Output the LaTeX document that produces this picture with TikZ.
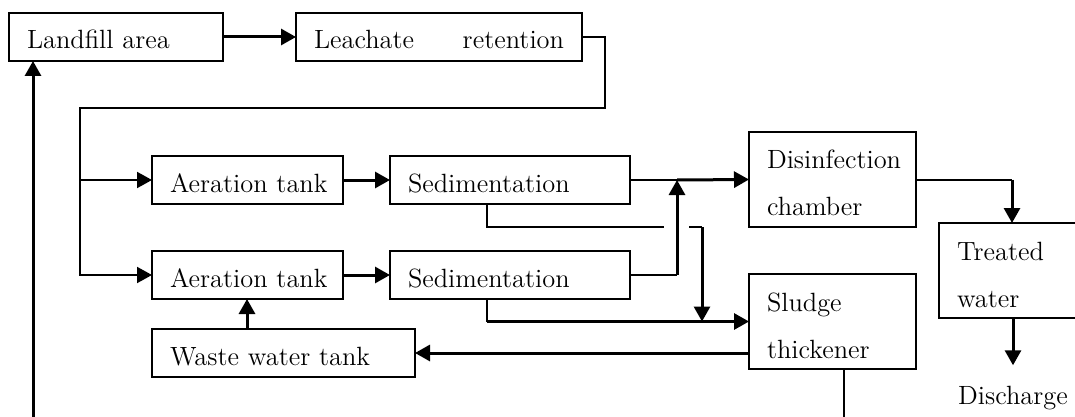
\documentclass[tikz,border=0pt]{standalone}
\usetikzlibrary{arrows.meta}
\begin{document}
\begin{tikzpicture}[x=0.5pt,y=-0.5pt,
  txt/.style={font=\fontsize{13.2}{23.5}\selectfont},
  box/.style={txt, draw, line width=1pt, anchor=north west, outer sep=0pt,
    inner xsep=9pt, inner ysep=2pt, align=left},
  one/.style={box, text height=12pt, text depth=0pt, minimum height=24pt},
  two/.style={box, text height=9pt, text depth=19.5pt, minimum height=47.5pt},
  thin/.style={line width=1pt},
  thk/.style={line width=1.5pt},
  arr/.style={-{Triangle[length=7.5pt,width=8pt]}},
]
\useasboundingbox (0,0) rectangle (1075,417);
\fill[white] (0,0) rectangle (1075,417);
\clip (0,0) rectangle (1075,417);

% boxes
\node[one, text width=89pt]    (land)    at (9,13)    {\mbox{Landfill area}};
\node[one, text width=125pt]   (leach)   at (296,13)  {Leachate\hfill retention};
\node[one, text width=77.5pt]  (aer1)    at (152,156) {\mbox{Aeration tank}};
\node[one, text width=102pt]   (sed1)    at (390,156) {\mbox{Sedimentation}};
\node[one, text width=77.5pt]  (aer2)    at (152,251) {\mbox{Aeration tank}};
\node[one, text width=102pt]   (sed2)    at (390,251) {\mbox{Sedimentation}};
\node[one, text width=113.5pt] (waste)   at (152,329) {\mbox{Waste water tank}};
\node[two, text width=65.5pt]  (dis)     at (749,132) {\mbox{Disinfection}\\\mbox{chamber}};
\node[two, text width=65.5pt]  (sludge)  at (749,274) {\mbox{Sludge}\\\mbox{thickener}};
\node[two, text width=57pt]    (treated) at (939,223) {\mbox{Treated}\\\mbox{water}};
\node[txt, anchor=base, inner sep=0pt] (dischg) at (1013,404) {Discharge};

% helper coordinates
\coordinate (r1) at (605,108);
\coordinate (jl) at (80,108);
\coordinate (j1) at (677,0);
\coordinate (sx) at (487,0);
\coordinate (ga) at (664,227);
\coordinate (gb) at (689,227);
\coordinate (vx) at (702,0);
\coordinate (wx) at (247,0);
\coordinate (lb) at (33,420);
\coordinate (sb) at (844,420);
\coordinate (tx) at (1012,0);

% connectors
\draw[thk,arr] (land) -- (leach);
\draw[thin,arr] (leach.east) -| (r1) -- (jl) |- (aer2.west);
\draw[thin,arr] (jl |- aer1.west) -- (aer1.west);
\draw[thk,arr] (aer1) -- (sed1);
\draw[thk,arr] (aer2) -- (sed2);

\draw[thin] (sed1.east) -- (sed1.east -| j1);
\draw[thk,arr] (sed1.east -| j1) -- (dis.west);
\draw[thin] (sed2.east) -- (sed2.east -| j1);
\draw[thk,arr] (sed2.east -| j1) -- (sed1.east -| j1);

\draw[thin] (sx |- sed1.south) |- (ga);
\draw[thin] (gb) -- (vx |- gb);
\draw[thk,arr] (vx |- gb) -- (vx |- sludge.west);
\draw[thin] (sx |- sed2.south) -- (sx |- sludge.west);
\draw[thk,arr] (sx |- sludge.west) -- (sludge.west);

\draw[thk,arr] (sludge.west |- waste.east) -- (waste.east);
\draw[thk,arr] (wx |- waste.north) -- (wx |- aer2.south);
\draw[thk,arr] (lb) -- (lb |- land.south);
\draw[thin] (sb |- sludge.south) -- (sb);

\draw[thin] (dis.east) -- (dis.east -| tx);
\draw[thk,arr] (dis.east -| tx) -- (tx |- treated.north);
\draw[thk,arr] (dischg.north |- treated.south) -- ([yshift=10pt]dischg.north);
\end{tikzpicture}
\end{document}
